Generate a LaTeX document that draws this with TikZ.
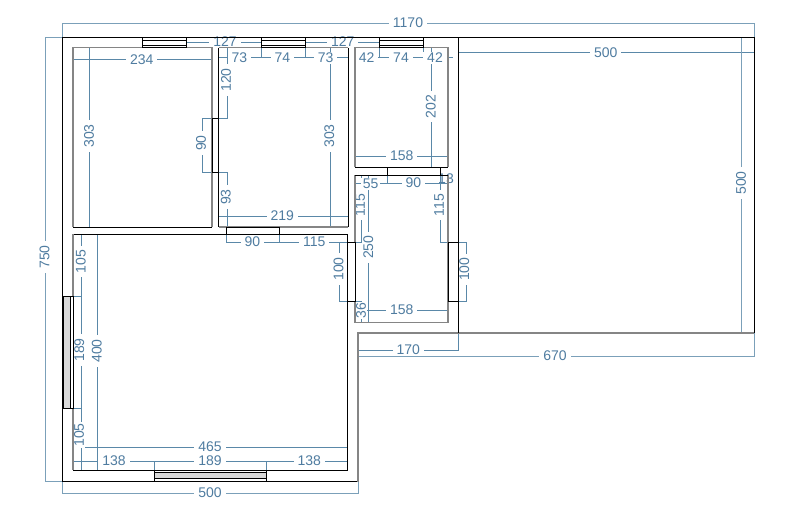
\documentclass[tikz,border=0pt]{standalone}
\usepackage{fontspec}
\setmainfont{Liberation Sans}
\definecolor{dimblue}{HTML}{5A88A8}
\definecolor{textblue}{HTML}{4F7CA0}
\definecolor{wallgrey}{HTML}{858585}
\tikzset{
    wall/.style={black,line width=0.8pt},
    softwall/.style={wallgrey,line width=1.1pt},
    pane/.style={black,line width=0.8pt,fill=white},
    glass/.style={black,line width=0.8pt,fill=black!15},
    dim/.style={dimblue,line width=0.8pt},
    outerdim/.style={dimblue!80,line width=1pt},
    dimlabel/.style={text=textblue,font=\fontsize{14}{14}\selectfont,fill=white,inner xsep=4pt,inner ysep=1pt},
    vlabel/.style={dimlabel,rotate=90}
}
\begin{document}
\begin{tikzpicture}[x=1pt,y=-1pt]
    \useasboundingbox (0,0) rectangle (786,517);
    %% overall dimensions
    \draw[outerdim] (62,37) -- (62,23.5) -- (754,23.5) -- (754,52);
    \draw[outerdim] (62,37.5) -- (45,37.5) -- (45,481.5) -- (62,481.5);
    \draw[outerdim] (62,481) -- (62,493) -- (358,493) -- (358,481);
    \draw[outerdim] (358,333) -- (358,356) -- (754,356) -- (754,333);
    \draw[dim] (358,350) -- (458,350) -- (458,333);
    \draw[dim] (458,52) -- (754,52);
    \draw[outerdim] (741.5,37.5) -- (741.5,333);
    %% top rooms
    \draw[dim] (73,59.5) -- (212,59.5);
    \draw[dim] (89.5,47.5) -- (89.5,227);
    \draw[dim] (186,42.5) -- (261,42.5);
    \draw[dim] (305,42.5) -- (379,42.5);
    \draw[dim] (219,57.5) -- (348,57.5);
    \draw[dim] (261,47) -- (261,57.5);
    \draw[dim] (305,47) -- (305,57.5);
    \draw[dim] (355,57.5) -- (453,57.5);
    \draw[dim] (379.5,47) -- (379.5,57.5);
    \draw[dim] (423.5,47) -- (423.5,57.5);
    \draw[dim] (227,47.5) -- (227,118) -- (202,118) -- (202,172) -- (227,172) -- (227,227);
    \draw[dim] (330,47.5) -- (330,227);
    \draw[dim] (218.5,216.5) -- (347.5,216.5);
    \draw[dim] (431.5,47.5) -- (431.5,167);
    \draw[dim] (355,156) -- (448,156);
    %% door dimensions
    \draw[dim] (226,227) -- (226,242) -- (355,242);
    \draw[dim] (279,227) -- (279,242);
    \draw[dim] (339,242) -- (339,301) -- (355,301);
    \draw[dim] (355,183) -- (448,183);
    \draw[dim] (387.5,175) -- (387.5,183);
    \draw[dim] (440.5,175) -- (440.5,183);
    \draw[dim] (361,175) -- (361,242) -- (355,242);
    \draw[dim] (368,175) -- (368,322.5);
    \draw[dim] (361,301) -- (361,322.5);
    \draw[dim] (355,301) -- (361,301);
    \draw[dim] (355,310) -- (448,310);
    \draw[dim] (440,175) -- (440,242) -- (466.5,242) -- (466.5,301) -- (448,301);
    %% lower room
    \draw[dim] (73,296) -- (81.5,296);
    \draw[dim] (73,408) -- (81.5,408);
    \draw[dim] (81.5,234) -- (81.5,470);
    \draw[dim] (97.5,234) -- (97.5,470);
    \draw[dim] (73,447) -- (347.5,447);
    \draw[dim] (73,461) -- (347.5,461);
    \draw[dim] (154.5,461) -- (154.5,470);
    \draw[dim] (266.5,461) -- (266.5,470);
    %% labels
    \node[dimlabel] (total) at (408,22.7) {1170};
    \node[vlabel] (height) at (44.5,257) {750};
    \node[dimlabel] (lowerwidth) at (210,493) {500};
    \node[dimlabel] (terracewidth) at (605.7,52.3) {500};
    \node[vlabel] (terraceheight) at (741,183) {500};
    \node[dimlabel] (stepwidth) at (408.3,350) {170};
    \node[dimlabel] (stepoffset) at (555,355.7) {670};
    \node[dimlabel] (roomAwidth) at (141.7,59.3) {234};
    \node[vlabel] (roomAheight) at (89,136) {303};
    \node[dimlabel] (pierA) at (225,42) {127};
    \node[dimlabel] (pierB) at (342.7,42) {127};
    \node[dimlabel] (roomBleft) at (239.3,57.7) {73};
    \node[dimlabel] (roomBwindow) at (282.3,57.7) {74};
    \node[dimlabel] (roomBright) at (325.7,57.7) {73};
    \node[dimlabel] (roomCleft) at (366.7,57.7) {42};
    \node[dimlabel] (roomCwindow) at (401,57.7) {74};
    \node[dimlabel] (roomCright) at (435,57.7) {42};
    \node[vlabel] (doorAabove) at (226,80) {120};
    \node[vlabel] (doorA) at (201,143) {90};
    \node[vlabel] (doorAbelow) at (225.7,197) {93};
    \node[vlabel] (roomBheight) at (329.3,136) {303};
    \node[dimlabel] (roomBwidth) at (282.3,215.7) {219};
    \node[vlabel] (roomCheight) at (430.7,106.7) {202};
    \node[dimlabel] (roomCwidth) at (401.7,155.7) {158};
    \node[dimlabel] (doorB) at (252.3,241.7) {90};
    \node[dimlabel] (doorBright) at (314.3,241.7) {115};
    \node[vlabel] (doorC) at (338.5,269) {100};
    \node[dimlabel,inner xsep=2pt] (doorDleft) at (370.7,184) {55};
    \node[dimlabel] (doorD) at (413.3,182.3) {90};
    \node[vlabel] (roomDupper) at (360,205) {115};
    \node[vlabel] (roomDupperb) at (439,205) {115};
    \node[vlabel] (roomDheight) at (368.3,247.3) {250};
    \node[vlabel] (doorE) at (464.3,269.3) {100};
    \node[vlabel,inner xsep=1pt] (roomDlower) at (361,310.7) {36};
    \node[dimlabel] (roomDwidth) at (401.7,310) {158};
    \node[vlabel] (sideupper) at (80.7,261.7) {105};
    \node[vlabel] (sidewindow) at (79.3,350) {189};
    \node[vlabel] (roomEheight) at (96.7,351) {400};
    \node[vlabel,inner xsep=1pt] (sidelower) at (79,435) {105};
    \node[dimlabel] (roomEwidth) at (210,446.7) {465};
    \node[dimlabel] (bottomleft) at (114,461) {138};
    \node[dimlabel] (bottomwindow) at (210,461) {189};
    \node[dimlabel] (bottomright) at (309.3,461) {138};
    \node[dimlabel,fill=none,inner sep=0pt] (doorDright) at (446,179) {13};
    %% outer walls
    \draw[wall] (358,37.5) -- (62,37.5) -- (62,481.5) -- (358,481.5);
    \draw[wall] (358,37.5) -- (754,37.5) -- (754,333);
    \draw[softwall] (358,481.5) -- (358,333) -- (754,333);
    \draw[wall] (458,37.5) -- (458,333);
    %% inner walls
    \draw[softwall] (73,227) -- (73,47.5) -- (212,47.5) -- (212,227);
    \draw[wall] (73,227) -- (212,227);
    \draw[softwall] (218.5,47.5) -- (348,47.5) (218.5,227) -- (348,227);
    \draw[wall] (218.5,47.5) -- (218.5,227);
    \draw[wall] (348,47.5) -- (348,227);
    \draw[softwall] (355,167) -- (355,47.5) -- (448,47.5) -- (448,167);
    \draw[wall] (355,167) -- (448,167);
    \draw[softwall] (355,175) -- (355,322.5) -- (448,322.5) -- (448,175);
    \draw[wall] (355,175) -- (448,175);
    \draw[wall] (347.5,234) -- (73,234);
    \draw[softwall] (73,234) -- (73,470);
    \draw[wall] (73,470) -- (347.5,470) -- (347.5,234);
    %% doors
    \draw[pane] (212,118) rectangle (218.5,172);
    \draw[pane] (226,227) rectangle (279,234);
    \draw[pane] (347.5,242) rectangle (355,301);
    \draw[pane] (387.5,167) rectangle (440.5,175);
    \draw[pane] (448,242) rectangle (458,301);
    %% windows
    \draw[pane] (142,37.5) rectangle (186,47.5);
    \draw[wall] (142,40.5) -- (186,40.5) (142,45) -- (186,45);
    \draw[pane] (261,37.5) rectangle (305,47.5);
    \draw[wall] (261,40.5) -- (305,40.5) (261,45) -- (305,45);
    \draw[pane] (379.5,37.5) rectangle (423.5,47.5);
    \draw[wall] (379.5,40.5) -- (423.5,40.5) (379.5,45) -- (423.5,45);
    \draw[pane] (62,296) rectangle (73,408);
    \draw[glass] (63.5,296) rectangle (70,408);
    \draw[pane] (154.5,470) rectangle (266.5,481.5);
    \draw[glass] (154.5,472.5) rectangle (266.5,478.5);
\end{tikzpicture}
\end{document}
